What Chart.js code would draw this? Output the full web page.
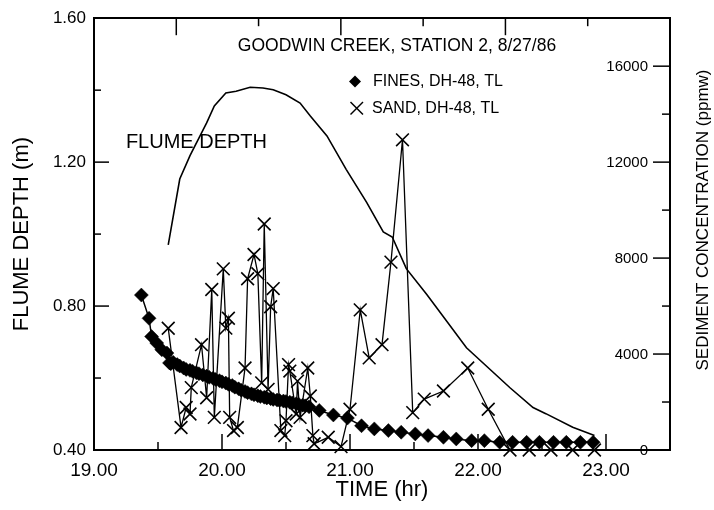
<!DOCTYPE html>
<html>
<head>
<meta charset="utf-8">
<script src="https://cdn.jsdelivr.net/npm/chart.js@4/dist/chart.umd.min.js"></script>
<style>
  body { margin: 0; background: #fff; }
  canvas { display: block; }
</style>
</head>
<body>
<canvas id="chart" width="714" height="510"></canvas>
<script>
// Goodwin Creek, station 2, 8/27/86 - flume depth and sediment concentration
const flumeTime = [19.58, 19.67, 19.75, 19.88, 19.94, 20.03, 20.11, 20.22, 20.32, 20.40, 20.50, 20.61, 20.69, 20.82, 20.97,
    21.13, 21.26, 21.33, 21.44, 21.60, 21.91, 22.25, 22.43, 22.53, 22.74, 22.91];
const flumeDepth = [0.970, 1.153, 1.218, 1.309, 1.356, 1.392, 1.397, 1.408, 1.406, 1.401, 1.387, 1.364, 1.328, 1.273, 1.180,
    1.088, 1.006, 0.992, 0.904, 0.832, 0.684, 0.573, 0.518, 0.501, 0.463, 0.440];

const finesTime = [19.37, 19.43, 19.45, 19.49, 19.53, 19.57, 19.59, 19.60, 19.62, 19.65, 19.67, 19.70, 19.72, 19.75, 19.77,
    19.80, 19.82, 19.85, 19.88, 19.90, 19.93, 19.95, 19.98, 20.00, 20.03, 20.05, 20.08, 20.10, 20.13, 20.15,
    20.18, 20.20, 20.23, 20.25, 20.28, 20.30, 20.33, 20.35, 20.38, 20.40, 20.43, 20.45, 20.48, 20.50, 20.53,
    20.55, 20.58, 20.60, 20.63, 20.65, 20.68, 20.76, 20.87, 20.98, 21.09, 21.19, 21.30, 21.40, 21.51, 21.61,
    21.73, 21.83, 21.95, 22.05, 22.17, 22.27, 22.38, 22.48, 22.59, 22.69, 22.80, 22.90];
const finesConc = [6460, 5490, 4730, 4460, 4180, 4040, 3630, 3600, 3650, 3560, 3500, 3420, 3360, 3320, 3280,
    3220, 3180, 3130, 3080, 3030, 2990, 2940, 2890, 2840, 2790, 2740, 2690, 2620, 2550, 2490,
    2440, 2390, 2340, 2300, 2260, 2230, 2200, 2170, 2140, 2110, 2080, 2060, 2040, 2020, 1990,
    1960, 1930, 1900, 1870, 1840, 1800, 1650, 1460, 1330, 1010, 880, 810, 740, 670, 600,
    530, 460, 390, 390, 320, 320, 320, 320, 320, 320, 320, 320];

const sandTime = [19.58, 19.68, 19.72, 19.75, 19.76, 19.84, 19.88, 19.92, 19.94, 20.01, 20.03, 20.05, 20.06, 20.09, 20.12,
    20.18, 20.20, 20.25, 20.28, 20.31, 20.33, 20.36, 20.38, 20.40, 20.46, 20.49, 20.50, 20.52, 20.53, 20.58,
    20.59, 20.61, 20.67, 20.69, 20.71, 20.72, 20.83, 20.93, 21.00, 21.08, 21.15, 21.25, 21.32, 21.41, 21.49,
    21.58, 21.73, 21.92, 22.08, 22.25, 22.40, 22.57, 22.74, 22.91];
const sandConc = [5075, 940, 1770, 1500, 2600, 4390, 2180, 6690, 1360, 7550, 5080, 5490, 1360, 810, 940,
    3420, 7140, 8150, 7350, 2800, 9420, 2530, 5970, 6730, 810, 600, 1220, 3560, 3290, 1500,
    2870, 1360, 3420, 2250, 600, 260, 530, 140, 1700, 5840, 3840, 4390, 7830, 12930, 1560,
    2120, 2460, 3420, 1700, 0, 0, 0, 0, 0];

const timeTicks = [19, 19.5, 20, 20.5, 21, 21.5, 22, 22.5, 23];
const depthTicks = [0.4, 0.6, 0.8, 1.0, 1.2, 1.4, 1.6];
const concTicks = [0, 2000, 4000, 6000, 8000, 10000, 12000, 14000, 16000, 18000];
const topTicks = [0, 1, 2, 3, 4, 5, 6, 7];

const FONT = "'Liberation Sans', Arial, sans-serif";
Chart.defaults.font.family = FONT;
Chart.defaults.color = '#000';

function pts(xs, ys) {
    return xs.map((x, i) => ({ x: x, y: ys[i] }));
}

function setTicks(list) {
    return scale => { scale.ticks = list.map(v => ({ value: v })); };
}

// ticks drawn inward, right axis labels, texts inside the frame
const frame = {
    id: 'frame',
    afterDraw(chart) {
        const { ctx, chartArea: a, scales } = chart;
        const line = (x1, y1, x2, y2) => {
            ctx.beginPath(); ctx.moveTo(x1, y1); ctx.lineTo(x2, y2); ctx.stroke();
        };
        ctx.save();
        ctx.strokeStyle = '#000';
        ctx.fillStyle = '#000';
        ctx.lineWidth = 1.5;

        scales.x.ticks.forEach(t => {
            if (t.value <= 19 || t.value >= 23.5) return;
            const px = scales.x.getPixelForValue(t.value);
            line(px, a.bottom, px, a.bottom - (t.value % 1 === 0 ? 16 : 8));
        });
        scales.x2.ticks.forEach(t => {
            if (t.value <= 0 || t.value >= 7) return;
            const px = scales.x2.getPixelForValue(t.value);
            line(px, a.top, px, a.top + (t.value % 2 === 1 ? 17 : 8));
        });
        scales.y.ticks.forEach(t => {
            if (t.value <= 0.4 || t.value >= 1.6) return;
            const py = scales.y.getPixelForValue(t.value);
            const major = Math.round(t.value * 100) % 40 === 0;
            line(a.left, py, a.left + (major ? 15 : 7), py);
        });
        ctx.font = '15px ' + FONT;
        ctx.textAlign = 'right';
        ctx.textBaseline = 'middle';
        scales.y2.ticks.forEach(t => {
            const py = scales.y2.getPixelForValue(t.value);
            const major = t.value % 4000 === 0;
            if (t.value > 0 && t.value < 18000) line(a.right, py, a.right - (major ? 17 : 8), py);
            if (major && t.value < 18000) ctx.fillText(String(t.value), a.right - 22, py + 1);
        });

        // right axis title, reading upward
        ctx.save();
        ctx.translate(703, 220);
        ctx.rotate(-Math.PI / 2);
        ctx.textAlign = 'center';
        ctx.font = '17px ' + FONT;
        ctx.fillText('SEDIMENT CONCENTRATION (ppmw)', 0, 0);
        ctx.restore();

        ctx.textAlign = 'center';
        ctx.font = '17.5px ' + FONT;
        ctx.fillText('GOODWIN CREEK, STATION 2, 8/27/86', 397, 46);

        ctx.textAlign = 'right';
        ctx.font = '20px ' + FONT;
        ctx.fillText('FLUME DEPTH', 267, 142);

        // legend
        ctx.textAlign = 'left';
        ctx.font = '16px ' + FONT;
        ctx.beginPath();
        ctx.moveTo(355, 75.5); ctx.lineTo(361, 81.5); ctx.lineTo(355, 87.5); ctx.lineTo(349, 81.5);
        ctx.closePath(); ctx.fill();
        ctx.fillText('FINES, DH-48, TL', 373, 82);
        line(350.5, 102, 363, 114.5);
        line(363, 102, 350.5, 114.5);
        ctx.fillText('SAND, DH-48, TL', 372, 108.5);
        ctx.restore();
    }
};

new Chart(document.getElementById('chart'), {
    type: 'scatter',
    data: {
        datasets: [
            {
                label: 'FINES, DH-48, TL', data: pts(finesTime, finesConc), yAxisID: 'y2', order: 0,
                showLine: true, borderColor: '#000', borderWidth: 1.5,
                pointStyle: 'rectRot', pointRadius: 7, pointBackgroundColor: '#000', pointBorderColor: '#000', pointBorderWidth: 0.5
            },
            {
                label: 'SAND, DH-48, TL', data: pts(sandTime, sandConc), yAxisID: 'y2', order: 1, clip: false,
                showLine: true, borderColor: '#000', borderWidth: 1.3,
                pointStyle: 'crossRot', pointRadius: 9, pointBorderColor: '#000', pointBorderWidth: 1.6
            },
            {
                label: 'FLUME DEPTH', data: pts(flumeTime, flumeDepth), yAxisID: 'y', order: 2,
                showLine: true, borderColor: '#000', borderWidth: 1.6, pointRadius: 0
            }
        ]
    },
    options: {
        responsive: false,
        animation: false,
        devicePixelRatio: 1,
        layout: { padding: { top: 14 } },
        plugins: { legend: { display: false }, tooltip: { enabled: false } },
        scales: {
            x: {
                type: 'linear', position: 'bottom', min: 19, max: 23.5,
                afterBuildTicks: setTicks(timeTicks),
                grid: { display: false, drawTicks: false },
                border: { display: true, color: '#000', width: 2 },
                ticks: {
                    autoSkip: false, maxRotation: 0, padding: 9, font: { size: 19 },
                    callback: v => (v % 1 === 0 ? v.toFixed(2) : '')
                },
                title: { display: true, text: 'TIME (hr)', font: { size: 22 }, padding: { top: 0, bottom: 7 } },
                afterFit: s => { s.height = 60; }
            },
            x2: {
                type: 'linear', position: 'top', min: 0, max: 7,
                afterBuildTicks: setTicks(topTicks),
                grid: { display: false, drawTicks: false },
                border: { display: true, color: '#000', width: 2 },
                ticks: { display: false },
                afterFit: s => { s.height = 0; }
            },
            y: {
                position: 'left', min: 0.4, max: 1.6,
                afterBuildTicks: setTicks(depthTicks),
                grid: { display: false, drawTicks: false },
                border: { display: true, color: '#000', width: 2 },
                ticks: {
                    padding: 8, font: { size: 17 },
                    callback: v => (Math.round(v * 100) % 40 === 0 ? v.toFixed(2) : '')
                },
                title: { display: true, text: 'FLUME DEPTH (m)', font: { size: 22 }, padding: { top: 9, bottom: 0 } },
                afterFit: s => { s.width = 94; }
            },
            y2: {
                position: 'right', min: 0, max: 18000,
                afterBuildTicks: setTicks(concTicks),
                grid: { display: false, drawTicks: false },
                border: { display: true, color: '#000', width: 2 },
                ticks: { display: false },
                afterFit: s => { s.width = 44; }
            }
        }
    },
    plugins: [frame]
});
</script>
</body>
</html>
